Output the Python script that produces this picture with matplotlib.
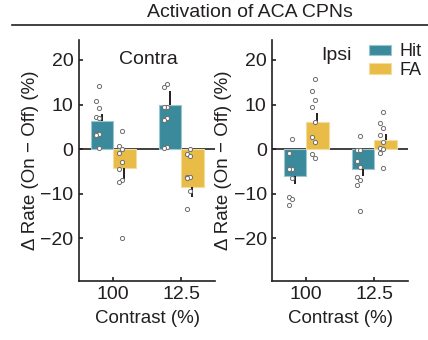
import numpy as np
import matplotlib
matplotlib.use("Agg")
import matplotlib.pyplot as plt
from matplotlib.patches import Patch

plt.rcParams['font.family'] = ['Liberation Sans', 'DejaVu Sans']
INK = '#231f20'

contrasts = ['100', '12.5']
conditions = ['Hit', 'FA']
colors = {'Hit': '#3a8a9c', 'FA': '#e8bc46'}
edges = {'Hit': '#9cc6cf', 'FA': '#f4dc9c'}

# mean and sem per panel, [condition][contrast]
contra_mean = {'Hit': [6.3, 10.0], 'FA': [-4.2, -8.4]}
contra_sem = {'Hit': [1.5, 3.0], 'FA': [2.4, 2.3]}
ipsi_mean = {'Hit': [-6.0, -4.4], 'FA': [6.0, 2.0]}
ipsi_sem = {'Hit': [1.9, 1.6], 'FA': [2.1, 1.3]}

# individual animals
contra_hit_100 = [14.2, 10.7, 9.3, 7.2, 7.0, 3.4, 3.3, 3.2, 0.2]
contra_fa_100 = [4.0, 0.8, 0.1, -0.8, -2.9, -4.5, -7.0, -7.3, -20.0]
contra_hit_125 = [14.5, 14.0, 9.5, 9.5, 6.9, 6.5, 0.5, 0.2]
contra_fa_125 = [0.1, -1.0, -1.6, -6.2, -6.3, -6.4, -9.4, -13.3]
ipsi_hit_100 = [2.3, -0.8, -4.5, -4.5, -6.5, -10.8, -11.2, -12.5]
ipsi_fa_100 = [15.7, 13.0, 11.1, 9.5, 6.0, 2.7, 1.6, -1.0, -2.0]
ipsi_hit_125 = [2.9, -0.1, -0.1, -2.6, -3.9, -6.3, -6.9, -8.0, -13.9]
ipsi_fa_125 = [8.4, 5.8, 4.8, 3.1, 1.6, 0.3, 0.1, -0.8, -4.2]

contra_pts = {'Hit': [contra_hit_100, contra_hit_125], 'FA': [contra_fa_100, contra_fa_125]}
ipsi_pts = {'Hit': [ipsi_hit_100, ipsi_hit_125], 'FA': [ipsi_fa_100, ipsi_fa_125]}

fig = plt.figure(figsize=(4.28, 3.40), dpi=100)
axL = fig.add_axes([0.185, 0.174, 0.318, 0.709])
axR = fig.add_axes([0.636, 0.174, 0.318, 0.709])

w = 0.33
offs = {'Hit': -w / 2, 'FA': w / 2}

def panel(ax, means, sems, pts, name, tx, ty):
	x = np.arange(len(contrasts))
	ax.axhline(0, color=INK, lw=1.2, zorder=1)
	for c in conditions:
		xs = x + offs[c]
		m = np.array(means[c]); s = np.array(sems[c])
		ax.bar(xs, m, w, color=colors[c], edgecolor=edges[c], lw=0.8, zorder=2)
		ax.vlines(xs, m, m + np.sign(m) * s, color=INK, lw=1.4, zorder=3)
		for i, vals in enumerate(pts[c]):
			jit = np.array([(-1) ** k * 0.022 for k in range(len(vals))])
			ax.plot(xs[i] - 0.06 + jit, vals, 'o', ms=3.0, mfc='white', mec='#6e6e6e', mew=0.7, zorder=4)
	ax.set_xlim(-0.5, 1.5)
	ax.set_ylim(-29.5, 24.5)
	ax.set_yticks([-20, -10, 0, 10, 20])
	ax.set_yticklabels(['\u221220', '\u221210', '0', '10', '20'])
	ax.set_xticks(x)
	ax.set_xticklabels(contrasts)
	for sp in ['top', 'right']:
		ax.spines[sp].set_visible(False)
	for sp in ['left', 'bottom']:
		ax.spines[sp].set_linewidth(1.2)
		ax.spines[sp].set_color(INK)
	ax.tick_params(direction='in', length=3, width=1.2, labelsize=14, colors=INK, pad=4)
	ax.set_xlabel('Contrast (%)', fontsize=13.5, color=INK, labelpad=5)
	ax.set_ylabel('\u0394 Rate (On \u2212 Off) (%)', fontsize=13.5, color=INK, labelpad=1)
	ax.text(tx, ty, name, fontsize=14, color=INK, ha='center', va='center')

panel(axL, contra_mean, contra_sem, contra_pts, 'Contra', 0.52, 20.0)
panel(axR, ipsi_mean, ipsi_sem, ipsi_pts, 'Ipsi', 0.45, 21.0)

handles = [Patch(facecolor=colors[c], edgecolor=edges[c], lw=0.8) for c in conditions]
axR.legend(handles, conditions, loc='upper left', bbox_to_anchor=(0.71, 0.985), frameon=False,
	fontsize=13, handlelength=1.25, handleheight=0.55, handletextpad=0.45, labelspacing=0.1,
	borderaxespad=0, borderpad=0, labelcolor=INK)

fig.text(0.585, 0.962, 'Activation of ACA CPNs', fontsize=14, color=INK, ha='center', va='center')
fig.add_artist(plt.Line2D([0.028, 1.0], [0.926, 0.926], color=INK, lw=1.2))

fig.savefig('out.png', dpi=100)
